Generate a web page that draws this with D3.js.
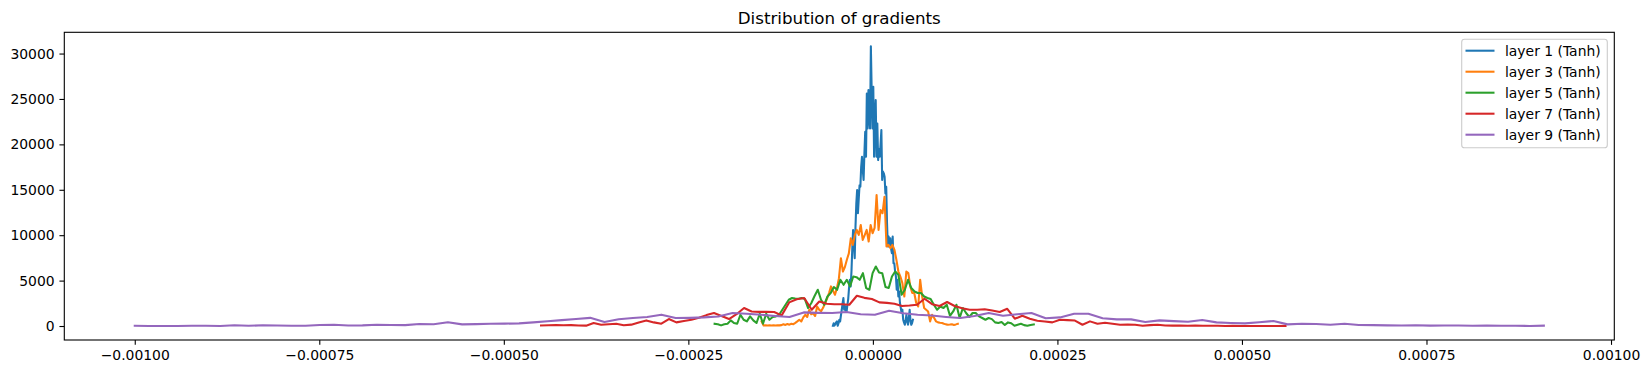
<!DOCTYPE html>
<html>
<head>
<meta charset="utf-8">
<script src="https://cdn.jsdelivr.net/npm/d3@7"></script>
<style>
  html, body { margin: 0; padding: 0; background: #fff; }
  svg { display: block; font-family: "DejaVu Sans", sans-serif; }
</style>
</head>
<body>
<svg id="chart" width="1648" height="374"></svg>
<script>
// ---- data ----
const seriesNames = ["layer 1 (Tanh)", "layer 3 (Tanh)", "layer 5 (Tanh)", "layer 7 (Tanh)", "layer 9 (Tanh)"];
const seriesColors = ["#1f77b4", "#ff7f0e", "#2ca02c", "#d62728", "#9467bd"];
// histogram bin-centre range (first, last) of each series
const binStart = [-0.0000542, -0.0001507, -0.0002144, -0.0004496, -0.0010000];
const binEnd   = [ 0.0000542,  0.0001151,  0.0002180,  0.0005590,  0.0009090];

const layer1 = [30,300,50,200,400,510,30,300,690,500,1200,1790,2500,3080,1790,2200,1700,1600,2340,3000,
  4200,5090,4360,6000,8500,10580,9000,7470,11000,13500,14980,12420,14000,15500,15340,17500,18640,17180,16080,19000,
  21390,18640,25600,21760,25970,23000,21760,30800,26000,21760,26330,18640,22670,24870,18640,22300,18270,19500,18640,20000,
  21570,16080,17000,16810,16440,14600,15340,11320,8750,9850,8750,9670,8500,8020,9850,6920,6920,6000,5450,3990,
  5090,3250,3800,2530,2000,1430,1800,690,400,140,600,1240,500,140,900,1790,600,140,330,690];
const layer3 = [500,60,80,50,70,60,80,60,90,70,100,200,120,220,150,250,200,350,510,690,
  500,950,1240,1000,1790,1300,1400,1100,2150,1800,1620,2000,2530,3000,3630,4360,3900,3440,4200,5270,
  7470,6000,6500,7290,8000,9670,8930,10000,10580,10030,11130,9480,10000,10580,9300,11130,10220,10800,14430,10580,
  12780,12420,14240,8750,8930,8570,8930,8390,7290,6000,5450,4730,3250,6000,5820,4360,3630,3630,2530,2150,
  5090,3250,1980,1790,1600,510,1240,900,510,400,360,330,250,180,140,160,200,120,180,250];
const layer5 = [250,200,70,200,250,620,330,250,1240,690,510,1060,620,330,1350,250,1350,690,990,1060,
  1240,1790,2340,2890,3080,3030,3000,3080,2970,1980,2530,3300,3990,2890,2340,3250,3630,4290,3990,5090,
  4540,5090,4360,5450,5380,5090,5820,4180,3990,5820,6550,5890,5820,4290,4180,5450,6000,5640,3440,3990,
  5090,4180,3800,3630,3630,3250,3080,2970,2340,1790,2150,1980,2340,1130,1600,2340,880,1980,1430,990,
  1430,1430,1060,880,690,880,760,400,330,440,110,400,300,30,150,250,100,30,120,180];
const layer7 = [60,90,100,90,100,60,40,330,140,200,250,80,150,400,620,400,250,770,400,560,
  690,900,1200,1430,1100,770,1300,1980,1600,1560,1560,1540,1170,2600,2950,3080,1790,2700,2450,2400,
  2400,2340,3330,3100,2970,2600,2550,2450,2200,2250,2340,3000,2400,2200,2640,2200,1950,1790,1800,1850,
  1700,1540,1900,800,1130,800,580,500,400,690,650,600,140,510,250,360,250,140,150,140,
  30,100,140,60,40,50,30,40,20,30,20,10,20,10,10,0,10,0,0,10];
const layer9 = [20,10,0,10,30,20,10,80,20,90,60,20,30,110,140,50,70,130,110,100,
  220,200,420,180,210,250,260,290,400,520,650,780,900,450,750,880,1000,1250,880,900,
  950,1050,1430,1350,1240,1100,990,1500,1450,1430,1540,1300,1240,1680,1400,1240,1150,1000,880,1100,
  1430,1130,1300,1430,850,950,1350,1350,850,730,730,440,620,540,470,660,400,330,290,420,
  550,180,250,230,130,250,120,100,70,60,80,40,60,50,30,40,20,30,10,40];
const seriesValues = [layer1, layer3, layer5, layer7, layer9];

const xTicks = [-0.001, -0.00075, -0.0005, -0.00025, 0, 0.00025, 0.0005, 0.00075, 0.001];
const xTickLabels = ["\u22120.00100", "\u22120.00075", "\u22120.00050", "\u22120.00025", "0.00000", "0.00025", "0.00050", "0.00075", "0.00100"];
const yTicks = [0, 5000, 10000, 15000, 20000, 25000, 30000];
const yTickLabels = ["0", "5000", "10000", "15000", "20000", "25000", "30000"];
const titleText = "Distribution of gradients";

// ---- build series ----
const series = seriesValues.map((vals, s) => {
  const n = vals.length;
  const step = (binEnd[s] - binStart[s]) / (n - 1);
  return {
    name: seriesNames[s],
    color: seriesColors[s],
    points: vals.map((v, i) => ({ x: binStart[s] + i * step, y: v }))
  };
});

// ---- layout ----
const svg = d3.select("#chart");
const W = 1648, H = 374;
const plot = { left: 64.3, right: 1614.3, top: 32.3, bottom: 340 };

const allX = series.flatMap(d => d.points.map(p => p.x));
const allY = series.flatMap(d => d.points.map(p => p.y));
const [x0, x1] = d3.extent(allX);
const [y0, y1] = d3.extent(allY);
const mx = (x1 - x0) * 0.05, my = (y1 - y0) * 0.05;

const x = d3.scaleLinear().domain([x0 - mx, x1 + mx]).range([plot.left, plot.right]);
const y = d3.scaleLinear().domain([y0 - my, y1 + my]).range([plot.bottom, plot.top]);

const fontSize = 13.9;
const tickLen = 4.86;

// clip
svg.append("defs").append("clipPath").attr("id", "clip")
  .append("rect").attr("x", plot.left).attr("y", plot.top)
  .attr("width", plot.right - plot.left).attr("height", plot.bottom - plot.top);

// lines
const line = d3.line().x(p => x(p.x)).y(p => y(p.y));
const gLines = svg.append("g").attr("clip-path", "url(#clip)");
series.forEach(s => {
  gLines.append("path")
    .attr("d", line(s.points))
    .attr("fill", "none")
    .attr("stroke", s.color)
    .attr("stroke-width", 2.08)
    .attr("stroke-linejoin", "round")
    .attr("stroke-linecap", "square");
});

// axes
const xAxis = d3.axisBottom(x).tickValues(xTicks)
  .tickFormat((d, i) => xTickLabels[i]).tickSize(tickLen).tickPadding(4.86);
const yAxis = d3.axisLeft(y).tickValues(yTicks)
  .tickFormat((d, i) => yTickLabels[i]).tickSize(tickLen).tickPadding(4.86);

const gx = svg.append("g").attr("transform", `translate(0,${plot.bottom})`).call(xAxis);
const gy = svg.append("g").attr("transform", `translate(${plot.left},0)`).call(yAxis);
[gx, gy].forEach(g => {
  g.select(".domain").remove();
  g.selectAll(".tick line").attr("stroke", "#000").attr("stroke-width", 1.1);
  g.selectAll(".tick text").attr("fill", "#000").attr("font-size", fontSize)
    .attr("font-family", "DejaVu Sans, sans-serif");
});

// frame
svg.append("rect")
  .attr("x", plot.left).attr("y", plot.top)
  .attr("width", plot.right - plot.left).attr("height", plot.bottom - plot.top)
  .attr("fill", "none").attr("stroke", "#000").attr("stroke-width", 1.1);

// title
svg.append("text")
  .attr("x", (plot.left + plot.right) / 2).attr("y", 23.5)
  .attr("text-anchor", "middle").attr("font-size", 16.7).attr("fill", "#000")
  .text(titleText);

// legend
const lg = svg.append("g");
const lgBox = { x: 1461.7, y: 39.3, w: 145.6, h: 108.4 };
lg.append("rect")
  .attr("x", lgBox.x).attr("y", lgBox.y).attr("width", lgBox.w).attr("height", lgBox.h)
  .attr("rx", 2.8).attr("ry", 2.8)
  .attr("fill", "#fff").attr("fill-opacity", 0.8)
  .attr("stroke", "#cccccc").attr("stroke-width", 1.1);
series.forEach((s, i) => {
  const yy = 50.7 + i * 21;
  lg.append("line").attr("x1", 1465.5).attr("x2", 1494.5).attr("y1", yy).attr("y2", yy)
    .attr("stroke", s.color).attr("stroke-width", 2.08);
  lg.append("text").attr("x", 1505).attr("y", yy).attr("dy", "0.36em")
    .attr("font-size", fontSize).attr("fill", "#000").text(s.name);
});
</script>
</body>
</html>
